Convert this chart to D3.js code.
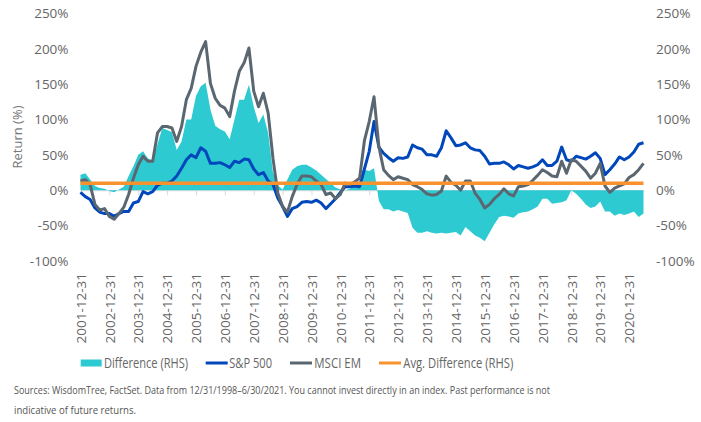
<!DOCTYPE html>
<html>
<head>
<meta charset="utf-8">
<script src="https://cdn.jsdelivr.net/npm/d3@7"></script>
<style>
  body { margin: 0; background: #fff; }
  svg text { font-family: "Open Sans", sans-serif; fill: #666; }
</style>
</head>
<body>
<div class="chart"></div>
<script>
// one value every two months, first point 2001-12-31, last 2021-06-30
var monthStep = 2;

var spValues = [
  -3, -9, -13, -25, -31, -33, -33, -37, -33, -30,
  -30, -18, -16, -2, -5, -2, 7, 10, 10, 13,
  20, 31, 43, 50, 46, 60, 55, 38, 38, 39,
  36, 32, 41, 39, 44, 43, 30, 22, 25, 13,
  8, -11, -23, -37, -26, -23, -17, -16, -17, -14,
  -18, -26, -19, -12, -3, 5, 5, 6, 5, 30,
  55, 97, 61, 52, 46, 41, 46, 45, 47, 64,
  60, 58, 50, 50, 48, 60, 84, 74, 63, 64,
  67, 60, 57, 56, 48, 37, 38, 38, 40, 36,
  30, 35, 33, 31, 33, 36, 43, 35, 35, 41,
  61, 43, 41, 48, 46, 44, 48, 53, 45, 22,
  29, 37, 47, 43, 47, 54, 65, 67
];

var emValues = [
  13, 15, 8, -20, -28, -26, -37, -41, -33, -24,
  -6, 17, 36, 48, 41, 41, 81, 90, 90, 88,
  69, 90, 128, 144, 175, 195, 210, 151, 130, 120,
  116, 104, 140, 168, 180, 201, 140, 118, 137, 109,
  45, -4, -23, -31, -9, 8, 20, 20, 19, 13,
  8, -6, -4, -12, -6, 10, 8, 12, 17, 70,
  97, 132, 62, 29, 21, 15, 19, 17, 15, 8,
  5, 1, -5, -7, -6, -1, 20, 11, 7, 0,
  13, 13, -4, -13, -25, -20, -12, -6, 2, -5,
  -8, 5, 6, 8, 14, 21, 29, 25, 20, 19,
  41, 24, 43, 41, 34, 27, 17, 24, 38, 6,
  -3, 3, 6, 9, 18, 22, 29, 38
];

var diffValues = [
  22, 24, 15, 6, 3, 2, -1, -3, 1, 5,
  20, 34, 50, 55, 45, 42, 65, 88, 85, 82,
  57, 69, 100, 100, 133, 147, 152, 114, 91, 86,
  83, 72, 100, 128, 128, 149, 118, 95, 107, 81,
  25, 7, 1, 15, 29, 34, 36, 36, 32, 28,
  22, 16, 10, 4, 1, 0, 2, 6, 6, 29,
  27, 31, -15, -27, -27, -30, -28, -30, -32, -53,
  -60, -60, -58, -60, -61, -60, -61, -60, -59, -64,
  -52, -58, -64, -67, -72, -60, -48, -38, -36, -37,
  -39, -33, -31, -30, -27, -23, -12, -12, -19, -18,
  -17, -14, 0, -5, -12, -20, -25, -23, -16, -30,
  -30, -36, -33, -35, -33, -30, -38, -33
];

var avgDiff = 10;

var tickLabels = [
  "2001-12-31", "2002-12-31", "2003-12-31", "2004-12-31", "2005-12-31",
  "2006-12-31", "2007-12-31", "2008-12-31", "2009-12-31", "2010-12-31",
  "2011-12-31", "2012-12-31", "2013-12-31", "2014-12-31", "2015-12-31",
  "2016-12-31", "2017-12-31", "2018-12-31", "2019-12-31", "2020-12-31"
];

var yTicks = [-100, -50, 0, 50, 100, 150, 200, 250];

var legendLabels = ["Difference (RHS)", "S&P 500", "MSCI EM", "Avg. Difference (RHS)"];

var sourceLines = [
  "Sources: WisdomTree, FactSet. Data from 12/31/1998\u20136/30/2021. You cannot invest directly in an index. Past performance is not",
  "indicative of future returns."
];

var colors = { diff: "#2ecad2", sp: "#0047bb", em: "#5b6770", avg: "#f7922f" };

var plot = { left: 80.5, right: 643.5, top: 13.3, bottom: 261 };

var svg = d3.select(".chart")
  .append("svg")
  .attr("width", 701)
  .attr("height", 422);

var lastMonth = (spValues.length - 1) * monthStep;
var xScale = d3.scaleLinear().domain([0, lastMonth]).range([plot.left, plot.right]);
var yScale = d3.scaleLinear().domain([-100, 250]).range([plot.bottom, plot.top]);
var yRight = d3.scaleLinear().domain([-100, 250]).range([plot.bottom, plot.top]);

var tickMonths = tickLabels.map(function (d, i) { return i * 12; });
var pct = function (d) { return d + "%"; };

/* axes */

var left = svg.append("g")
  .attr("transform", "translate(" + plot.left + ",0)")
  .call(d3.axisLeft(yScale).tickValues(yTicks).tickFormat(pct).tickSize(0).tickPadding(12));
left.select(".domain").remove();

var right = svg.append("g")
  .attr("transform", "translate(" + plot.right + ",0)")
  .call(d3.axisRight(yRight).tickValues(yTicks).tickFormat(pct).tickSize(0).tickPadding(12.5));
right.select(".domain").remove();

svg.selectAll(".tick text")
  .style("font-size", "13.5px")
  .style("fill", "#666");

var zeroAxis = svg.append("g")
  .attr("transform", "translate(0," + yScale(0) + ")")
  .call(d3.axisBottom(xScale).tickValues(tickMonths).tickFormat("").tickSize(5).tickSizeOuter(0));
zeroAxis.selectAll("line, path").attr("stroke", "#d9d9d9");

var xLabels = svg.append("g")
  .attr("transform", "translate(0,273)")
  .call(d3.axisBottom(xScale).tickValues(tickMonths)
    .tickFormat(function (d) { return tickLabels[d / 12]; })
    .tickSize(0));
xLabels.select(".domain").remove();
xLabels.selectAll("text")
  .attr("transform", "rotate(-90)")
  .attr("text-anchor", "end")
  .attr("x", 0)
  .attr("y", 0)
  .attr("dy", "0.35em")
  .style("font-size", "13.5px")
  .style("fill", "#666");

svg.append("text")
  .attr("transform", "translate(17,137) rotate(-90)")
  .attr("text-anchor", "middle")
  .attr("dy", "0.35em")
  .style("font-size", "13px")
  .style("fill", "#777")
  .text("Return (%)");

/* marks */

var area = d3.area()
  .x(function (d, i) { return xScale(i * monthStep); })
  .y0(yRight(0))
  .y1(function (d) { return yRight(d); });

var line = d3.line()
  .x(function (d, i) { return xScale(i * monthStep); })
  .y(function (d) { return yScale(d); });

svg.append("path")
  .datum(diffValues)
  .attr("fill", colors.diff)
  .attr("d", area);

svg.append("path")
  .datum(spValues)
  .attr("fill", "none")
  .attr("stroke", colors.sp)
  .attr("stroke-width", 3)
  .attr("stroke-linejoin", "round")
  .attr("d", line);

svg.append("path")
  .datum(emValues)
  .attr("fill", "none")
  .attr("stroke", colors.em)
  .attr("stroke-width", 3)
  .attr("stroke-linejoin", "round")
  .attr("d", line);

svg.append("line")
  .attr("x1", xScale(0))
  .attr("x2", xScale(lastMonth))
  .attr("y1", yRight(avgDiff))
  .attr("y2", yRight(avgDiff))
  .attr("stroke", colors.avg)
  .attr("stroke-width", 3.5);

/* legend */

var legendLayout = [
  { sx: 80.7, tx: 104, w: 84, color: colors.diff, kind: "rect" },
  { sx: 205.7, tx: 229.3, w: 42.7, color: colors.sp, kind: "line" },
  { sx: 290, tx: 314.3, w: 46.7, color: colors.em, kind: "line" },
  { sx: 379, tx: 403.3, w: 110, color: colors.avg, kind: "line" }
];

legendLayout.forEach(function (item, i) {
  if (item.kind === "rect") {
    svg.append("rect")
      .attr("x", item.sx).attr("y", 359.5)
      .attr("width", 21).attr("height", 7)
      .attr("fill", item.color);
  } else {
    svg.append("line")
      .attr("x1", item.sx).attr("x2", item.sx + 22)
      .attr("y1", 363).attr("y2", 363)
      .attr("stroke", item.color)
      .attr("stroke-width", 3);
  }
  svg.append("text")
    .attr("x", item.tx)
    .attr("y", 368.3)
    .attr("textLength", item.w)
    .attr("lengthAdjust", "spacingAndGlyphs")
    .style("font-size", "15px")
    .style("fill", "#666")
    .text(legendLabels[i]);
});

/* sources */

svg.selectAll(".source")
  .data(sourceLines)
  .enter().append("text")
  .attr("class", "source")
  .attr("x", 14)
  .attr("y", function (d, i) { return 393.5 + i * 20; })
  .attr("textLength", function (d, i) { return i === 0 ? 536 : 122; })
  .attr("lengthAdjust", "spacingAndGlyphs")
  .style("font-size", "11.5px")
  .style("fill", "#555")
  .text(function (d) { return d; });
</script>
</body>
</html>
